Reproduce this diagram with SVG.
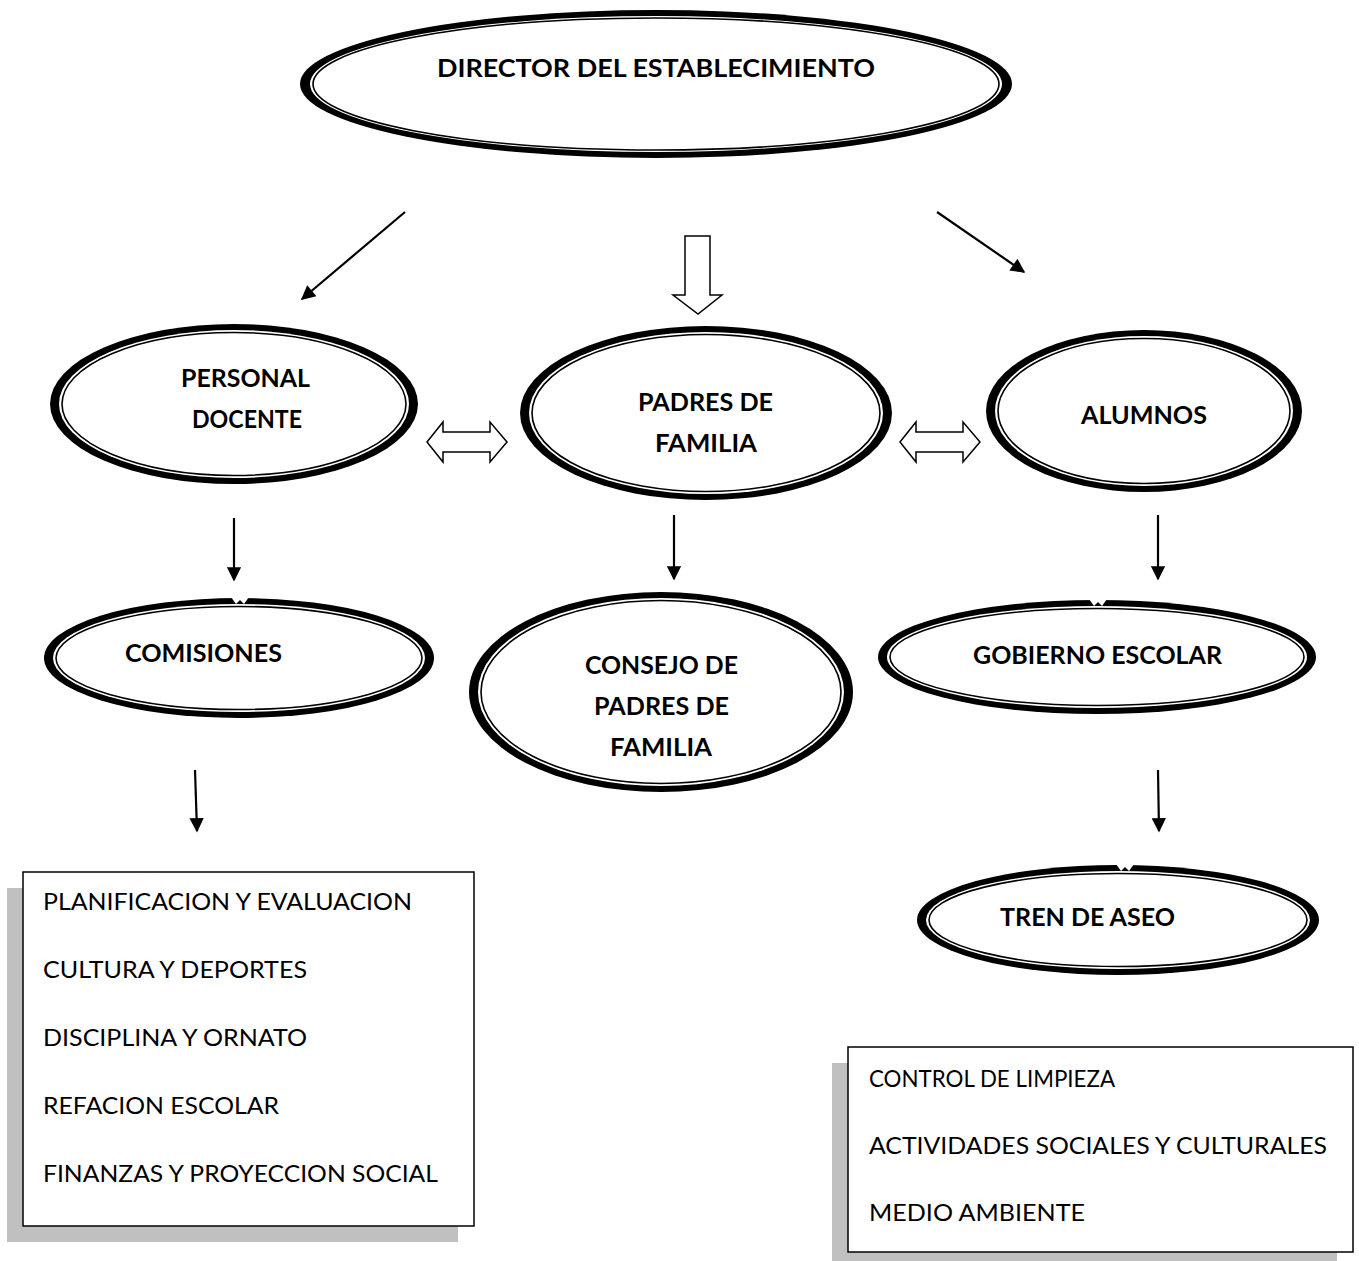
<svg xmlns="http://www.w3.org/2000/svg" width="1359" height="1261" viewBox="0 0 1359 1261">
<style>
.outer{fill:#000}
.gap{fill:#fff}
.inner{fill:#fff;stroke:#000;stroke-width:1.6}
.b{font-family:Lato,"Open Sans","Liberation Sans",sans-serif;font-weight:bold;font-size:24px;fill:#000;text-anchor:start}
.r{font-family:Lato,"Open Sans","Liberation Sans",sans-serif;font-size:24px;fill:#000}
.ln{stroke:#000;stroke-width:2.2;fill:none}
.hollow{fill:#fff;stroke:#000;stroke-width:1.5;stroke-linejoin:miter}
.shadow{fill:#c0c0c0}
.box{fill:#fff;stroke:#000;stroke-width:1.5}
</style>
<defs>
<marker id="ah" viewBox="0 0 10 10" refX="9" refY="5" markerWidth="7.5" markerHeight="6.5" markerUnits="strokeWidth" orient="auto">
<path d="M0,0 L10,5 L0,10 z" fill="#000"/>
</marker>
</defs>
<rect width="1359" height="1261" fill="#fff"/>

<g id="connectors">
<line class="ln" x1="405" y1="212" x2="302" y2="299" marker-end="url(#ah)"/>
<line class="ln" x1="937" y1="212" x2="1024" y2="272" marker-end="url(#ah)"/>
<path class="hollow" d="M685,236 H710 V295 H722 L698,314 L673,295 H685 Z"/>
<path class="hollow" d="M427,442 L443,422 V432 H490 V422 L507,442 L490,462 V452 H443 V462 Z"/>
<path class="hollow" d="M900,442 L916,422 V432 H963 V422 L980,442 L963,462 V452 H916 V462 Z"/>
<line class="ln" x1="234" y1="518" x2="234" y2="580" marker-end="url(#ah)"/>
<line class="ln" x1="674" y1="515" x2="674" y2="579" marker-end="url(#ah)"/>
<line class="ln" x1="1158" y1="515" x2="1158" y2="579" marker-end="url(#ah)"/>
<line class="ln" x1="195" y1="770" x2="197" y2="831" marker-end="url(#ah)"/>
<line class="ln" x1="1158" y1="770" x2="1159" y2="831" marker-end="url(#ah)"/>
</g>

<g id="director">
<ellipse class="outer" cx="656" cy="84" rx="356" ry="74"/>
<ellipse class="gap" cx="656" cy="84" rx="346" ry="68"/>
<ellipse class="inner" cx="656" cy="84" rx="343" ry="66"/>
<text class="b" x="437" y="77" textLength="438" lengthAdjust="spacingAndGlyphs">DIRECTOR DEL ESTABLECIMIENTO</text>
</g>

<g id="personal-docente">
<ellipse class="outer" cx="234" cy="404" rx="184" ry="80"/>
<ellipse class="gap" cx="234" cy="404" rx="175" ry="74"/>
<ellipse class="inner" cx="234" cy="404" rx="172" ry="71.5"/>
<text class="b" x="181" y="387" textLength="129" lengthAdjust="spacingAndGlyphs">PERSONAL</text>
<text class="b" x="192" y="428" textLength="110" lengthAdjust="spacingAndGlyphs">DOCENTE</text>
</g>

<g id="padres-de-familia">
<ellipse class="outer" cx="706" cy="413" rx="186" ry="87"/>
<ellipse class="gap" cx="706" cy="413" rx="177" ry="81"/>
<ellipse class="inner" cx="706" cy="413" rx="174" ry="78.5"/>
<text class="b" x="638" y="411" textLength="135" lengthAdjust="spacingAndGlyphs">PADRES DE</text>
<text class="b" x="655" y="452" textLength="102" lengthAdjust="spacingAndGlyphs">FAMILIA</text>
</g>

<g id="alumnos">
<ellipse class="outer" cx="1144" cy="411" rx="158" ry="81"/>
<ellipse class="gap" cx="1144" cy="411" rx="149" ry="75"/>
<ellipse class="inner" cx="1144" cy="411" rx="146" ry="72.5"/>
<text class="b" x="1081" y="424" textLength="126" lengthAdjust="spacingAndGlyphs">ALUMNOS</text>
</g>

<g id="comisiones">
<ellipse class="outer" cx="239" cy="658" rx="195" ry="60"/>
<ellipse class="gap" cx="239" cy="658" rx="186" ry="54"/>
<ellipse class="inner" cx="239" cy="658" rx="183" ry="51.5"/>
<path d="M231,597 L236,604 L240,600 L244,604 L249,597 Z" fill="#fff"/>
<text class="b" x="125" y="662" textLength="157" lengthAdjust="spacingAndGlyphs">COMISIONES</text>
</g>

<g id="consejo">
<ellipse class="outer" cx="661" cy="692" rx="192" ry="100"/>
<ellipse class="gap" cx="661" cy="692" rx="183" ry="94"/>
<ellipse class="inner" cx="661" cy="692" rx="180" ry="91.5"/>
<text class="b" x="585" y="674" textLength="153" lengthAdjust="spacingAndGlyphs">CONSEJO DE</text>
<text class="b" x="594" y="715" textLength="135" lengthAdjust="spacingAndGlyphs">PADRES DE</text>
<text class="b" x="610" y="756" textLength="102" lengthAdjust="spacingAndGlyphs">FAMILIA</text>
</g>

<g id="gobierno-escolar">
<ellipse class="outer" cx="1097" cy="657" rx="219" ry="57"/>
<ellipse class="gap" cx="1097" cy="657" rx="210" ry="51"/>
<ellipse class="inner" cx="1097" cy="657" rx="207" ry="48.5"/>
<path d="M1089,599 L1094,606 L1098,602 L1102,606 L1107,599 Z" fill="#fff"/>
<text class="b" x="973" y="664" textLength="249" lengthAdjust="spacingAndGlyphs">GOBIERNO ESCOLAR</text>
</g>

<g id="tren-de-aseo">
<ellipse class="outer" cx="1118" cy="920" rx="201" ry="55"/>
<ellipse class="gap" cx="1118" cy="920" rx="192" ry="49"/>
<ellipse class="inner" cx="1118" cy="920" rx="189" ry="46.5"/>
<path d="M1116,864 L1121,871 L1125,867 L1129,871 L1134,864 Z" fill="#fff"/>
<text class="b" x="1000" y="926" textLength="175" lengthAdjust="spacingAndGlyphs">TREN DE ASEO</text>
</g>

<g id="comisiones-list">
<rect class="shadow" x="7" y="888" width="451" height="354"/>
<rect class="box" x="23" y="872" width="451" height="354"/>
<text class="r" x="43" y="910" textLength="369" lengthAdjust="spacingAndGlyphs">PLANIFICACION Y EVALUACION</text>
<text class="r" x="43" y="978" textLength="264" lengthAdjust="spacingAndGlyphs">CULTURA Y DEPORTES</text>
<text class="r" x="43" y="1046" textLength="264" lengthAdjust="spacingAndGlyphs">DISCIPLINA Y ORNATO</text>
<text class="r" x="43" y="1114" textLength="236" lengthAdjust="spacingAndGlyphs">REFACION ESCOLAR</text>
<text class="r" x="43" y="1182" textLength="395" lengthAdjust="spacingAndGlyphs">FINANZAS Y PROYECCION SOCIAL</text>
</g>

<g id="tren-list">
<rect class="shadow" x="832" y="1063" width="505" height="198"/>
<rect class="box" x="848" y="1047" width="505" height="205"/>
<text class="r" x="869" y="1087" textLength="246" lengthAdjust="spacingAndGlyphs">CONTROL DE LIMPIEZA</text>
<text class="r" x="869" y="1154" textLength="458" lengthAdjust="spacingAndGlyphs">ACTIVIDADES SOCIALES Y CULTURALES</text>
<text class="r" x="869" y="1221" textLength="216" lengthAdjust="spacingAndGlyphs">MEDIO AMBIENTE</text>
</g>
</svg>
